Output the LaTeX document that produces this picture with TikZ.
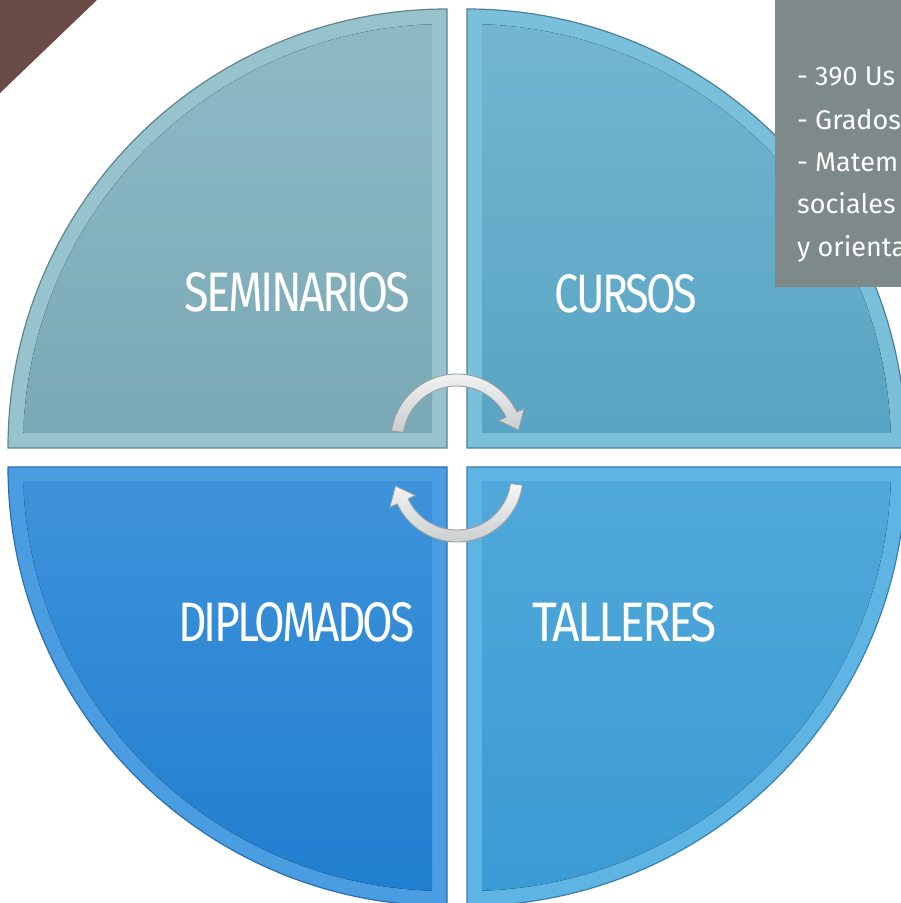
\documentclass[tikz,border=0pt]{standalone}
\usepackage{fontspec}
\usepackage{graphicx}
\newfontfamily\dinf[LetterSpace=-6]{Fira Sans}
\newfontfamily\boxf{Fira Sans}
\definecolor{brownc}{HTML}{6A4B46}
\definecolor{grayboxc}{HTML}{7D8A89}
\definecolor{tltop}{HTML}{8FBBC6}
\definecolor{tlbot}{HTML}{79A9B5}
\definecolor{tlband}{HTML}{97C3CD}
\definecolor{tlline}{HTML}{5E8590}
\definecolor{trtop}{HTML}{74B7D2}
\definecolor{trbot}{HTML}{58A4C3}
\definecolor{trband}{HTML}{7AC0DA}
\definecolor{trline}{HTML}{4A8098}
\definecolor{bltop}{HTML}{3E92DA}
\definecolor{blbot}{HTML}{1F7ECF}
\definecolor{blband}{HTML}{4A9DE0}
\definecolor{blline}{HTML}{2A6FAE}
\definecolor{brtop}{HTML}{50A8DA}
\definecolor{brbot}{HTML}{3A9AD3}
\definecolor{brband}{HTML}{5EB4E2}
\definecolor{brline}{HTML}{3A7FAE}
\definecolor{arrfill1}{HTML}{F4F5F5}
\definecolor{arrfill2}{HTML}{C9CDCE}
\definecolor{arrline}{HTML}{9AA0A2}
\tikzset{
  qlabel/.style={inner sep=0pt, text=white, font=\dinf},
  boxtxt/.style={inner sep=0pt, text=white, font=\boxf\fontsize{27}{27}\selectfont},
  cyc/.style={draw=arrline, line width=0.9pt, top color=arrfill1, bottom color=arrfill2}
}
\begin{document}
\begin{tikzpicture}[x=1pt,y=1pt]
\useasboundingbox (0,0) rectangle (901,903);
\clip (0,0) rectangle (901,903);
\fill[white] (0,0) rectangle (901,903);
% brown corner
\fill[brownc] (0,903) -- (97,903) -- (0,810) -- cycle;
% quadrant corners
\coordinate (c1) at (447,455);
\coordinate (c2) at (467,455);
\coordinate (c3) at (447,436);
\coordinate (c4) at (467,436);
% top-left
\path[fill=tlband, draw=tlline, line width=1.2pt] (c1) -- ++(-439,0) arc[start angle=180,end angle=90,radius=439] -- cycle;
\begin{scope}
\clip (c1) circle (424);
\fill[top color=tltop, bottom color=tlbot] (432,470) rectangle (0,903);
\end{scope}
% top-right
\path[fill=trband, draw=trline, line width=1.2pt] (c2) -- ++(0,439) arc[start angle=90,end angle=0,radius=439] -- cycle;
\begin{scope}
\clip (c2) circle (424);
\fill[top color=trtop, bottom color=trbot] (482,470) rectangle (910,903);
\end{scope}
% bottom-left
\path[fill=blband, draw=blline, line width=1.2pt] (c3) -- ++(-439,0) arc[start angle=180,end angle=270,radius=439] -- cycle;
\begin{scope}
\clip (c3) circle (424);
\fill[top color=bltop, bottom color=blbot] (432,421) rectangle (0,-10);
\end{scope}
% bottom-right
\path[fill=brband, draw=brline, line width=1.2pt] (c4) -- ++(439,0) arc[start angle=0,end angle=-90,radius=439] -- cycle;
\begin{scope}
\clip (c4) circle (424);
\fill[top color=brtop, bottom color=brbot] (482,421) rectangle (910,-10);
\end{scope}
% labels
\node[qlabel] (sem) at (297.5,610.5) {\resizebox{225pt}{39pt}{SEMINARIOS}};
\node[qlabel] (cur) at (626,609) {\resizebox{142pt}{38pt}{CURSOS}};
\node[qlabel] (dip) at (296.5,280.5) {\resizebox{237pt}{39pt}{DIPLOMADOS}};
\node[qlabel] (tal) at (625,280.5) {\resizebox{184pt}{39pt}{TALLERES}};
% cycle arrows
\begin{scope}[shift={(457,463)}]
\path[cyc] (172:66) arc[start angle=172,end angle=25,radius=66] -- (25:74) -- (61.56,9.95) -- (25:46) -- (25:54) arc[start angle=25,end angle=172,radius=54] -- cycle;
\end{scope}
\begin{scope}[shift={(457,427)}, rotate=180]
\path[cyc] (172:66) arc[start angle=172,end angle=25,radius=66] -- (25:74) -- (61.56,9.95) -- (25:46) -- (25:54) arc[start angle=25,end angle=172,radius=54] -- cycle;
\end{scope}
% gray box
\fill[grayboxc] (775,903) rectangle (910,616);
\node[boxtxt, anchor=base west] (t1) at (797,817) {- 390 Us};
\node[boxtxt, anchor=base west] (t2) at (797,773) {- Grados};
\node[boxtxt, anchor=base west] (t3) at (797,731) {- Matem};
\node[boxtxt, anchor=base west] (t4) at (797,689) {sociales};
\node[boxtxt, anchor=base west] (t5) at (797,646) {y orienta};
\end{tikzpicture}
\end{document}
